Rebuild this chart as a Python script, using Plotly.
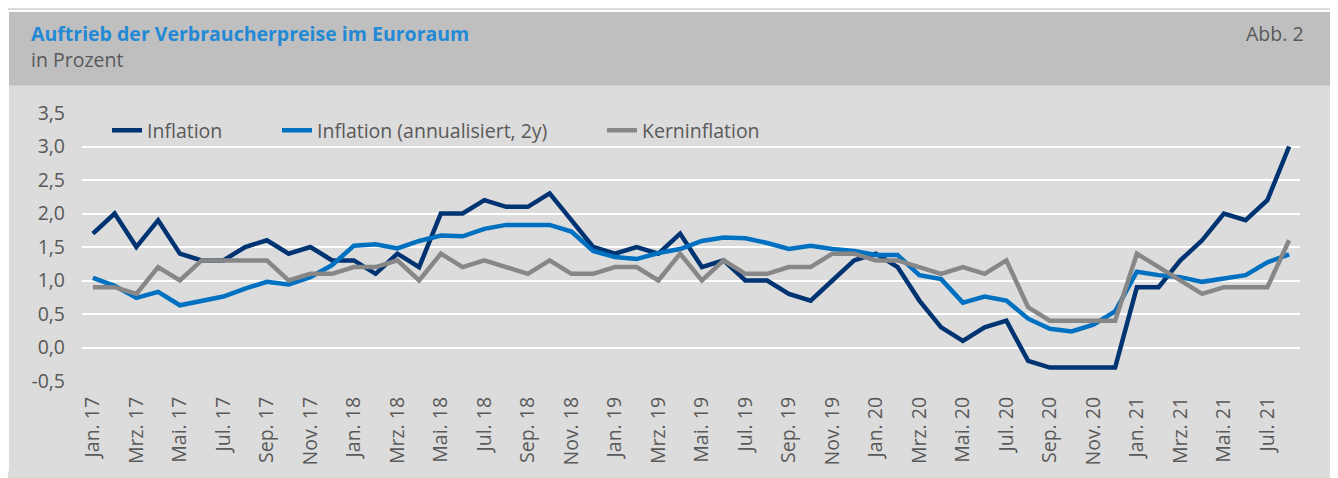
import plotly.graph_objects as go

# ---------------- data ----------------
month_names = ["Jan.", "Feb.", "Mrz.", "Apr.", "Mai.", "Jun.", "Jul.", "Aug.", "Sep.", "Okt.", "Nov.", "Dez."]
years = ["17", "18", "19", "20", "21"]
months = [f"{m} {y}" for y in years for m in month_names][:56]   # Jan. 17 .. Aug. 21
tick_labels = months[::2]

y_tick_vals = [-0.5, 0.0, 0.5, 1.0, 1.5, 2.0, 2.5, 3.0, 3.5]
y_tick_text = ["-0,5", "0,0", "0,5", "1,0", "1,5", "2,0", "2,5", "3,0", "3,5"]

inflation = [1.7, 2.0, 1.5, 1.9, 1.4, 1.3, 1.3, 1.5, 1.6, 1.4, 1.5, 1.3,
             1.3, 1.1, 1.4, 1.2, 2.0, 2.0, 2.2, 2.1, 2.1, 2.3, 1.9, 1.5,
             1.4, 1.5, 1.4, 1.7, 1.2, 1.3, 1.0, 1.0, 0.8, 0.7, 1.0, 1.3,
             1.4, 1.2, 0.7, 0.3, 0.1, 0.3, 0.4, -0.2, -0.3, -0.3, -0.3, -0.3,
             0.9, 0.9, 1.3, 1.6, 2.0, 1.9, 2.2, 3.0]

inflation_2y = [1.04, 0.92, 0.74, 0.83, 0.63, 0.69, 0.76, 0.88, 0.98, 0.94, 1.05, 1.23,
                1.52, 1.54, 1.48, 1.59, 1.67, 1.66, 1.77, 1.83, 1.83, 1.83, 1.73, 1.44,
                1.35, 1.32, 1.41, 1.47, 1.59, 1.64, 1.63, 1.56, 1.47, 1.52, 1.47, 1.44,
                1.38, 1.38, 1.08, 1.02, 0.67, 0.76, 0.70, 0.43, 0.28, 0.24, 0.34, 0.54,
                1.13, 1.08, 1.05, 0.98, 1.03, 1.08, 1.27, 1.39]

kerninflation = [0.9, 0.9, 0.8, 1.2, 1.0, 1.3, 1.3, 1.3, 1.3, 1.0, 1.1, 1.1,
                 1.2, 1.2, 1.3, 1.0, 1.4, 1.2, 1.3, 1.2, 1.1, 1.3, 1.1, 1.1,
                 1.2, 1.2, 1.0, 1.4, 1.0, 1.3, 1.1, 1.1, 1.2, 1.2, 1.4, 1.4,
                 1.3, 1.3, 1.2, 1.1, 1.2, 1.1, 1.3, 0.6, 0.4, 0.4, 0.4, 0.4,
                 1.4, 1.2, 1.0, 0.8, 0.9, 0.9, 0.9, 1.6]

series_names = ["Inflation", "Inflation (annualisiert, 2y)", "Kerninflation"]

# ---------------- styles ----------------
# the page has an 8px body margin, so the figure is 8px smaller than the window
W, H = 1330, 470
OFF = 8                                   # page -> figure offset
PLOT_L, PLOT_R, PLOT_T, PLOT_B = 82 - OFF, 1300 - OFF, 113 - OFF, 386 - OFF
FONT = "Open Sans"
FS = 19.5
TXT = "#595959"
C_DARK, C_BLUE, C_GRAY = "#003371", "#0070C0", "#878787"
LW = 4.5


def px_x(page_px):
    return (page_px - OFF - PLOT_L) / (PLOT_R - PLOT_L)


def px_y(page_py):
    return (PLOT_B - (page_py - OFF)) / (PLOT_B - PLOT_T)


fig = go.Figure()
for name, vals, col, lg in [(series_names[0], inflation, C_DARK, "legend"),
                            (series_names[1], inflation_2y, C_BLUE, "legend2"),
                            (series_names[2], kerninflation, C_GRAY, "legend3")]:
    fig.add_trace(go.Scatter(x=months, y=vals, name=name, mode="lines",
                             line=dict(color=col, width=LW), legend=lg))

legend_common = dict(orientation="h", yanchor="middle", xanchor="left",
                     bgcolor="rgba(0,0,0,0)", borderwidth=0,
                     font=dict(family=FONT, size=FS, color=TXT))

fig.update_layout(
    width=W, height=H,
    margin=dict(l=PLOT_L, r=W - PLOT_R, t=PLOT_T, b=H - PLOT_B, pad=0),
    paper_bgcolor="#DCDCDC", plot_bgcolor="#DCDCDC",
    font=dict(family=FONT, color=TXT),
    showlegend=True,
    legend=dict(x=px_x(107), y=px_y(131), **legend_common),
    legend2=dict(x=px_x(277), y=px_y(131), **legend_common),
    legend3=dict(x=px_x(602), y=px_y(131), **legend_common),
    xaxis=dict(type="category", categoryorder="array", categoryarray=months,
               range=[-0.5, len(months) - 0.5],
               tickmode="array", tickvals=tick_labels, ticktext=tick_labels,
               tickangle=-90, ticks="", showgrid=False, zeroline=False, showline=False,
               ticklabelstandoff=11,
               tickfont=dict(family=FONT, size=FS, color=TXT)),
    xaxis2=dict(overlaying="x", anchor="free", position=0.5 / 4.0, side="bottom",
                range=[-0.5, len(months) - 0.5], tickmode="linear", tick0=-0.5, dtick=2,
                ticks="outside", ticklen=5, tickwidth=2, tickcolor="white",
                showticklabels=False, showgrid=False, zeroline=False, showline=False),
    yaxis=dict(range=[-0.5, 3.5], tickmode="array", tickvals=y_tick_vals, ticktext=y_tick_text,
               showgrid=True, gridcolor="white", gridwidth=2, zeroline=False,
               showline=False, ticks="", ticklabelstandoff=16,
               tickfont=dict(family=FONT, size=FS, color=TXT)),
    shapes=[
        dict(type="rect", xref="paper", yref="paper", x0=px_x(8), x1=px_x(1338),
             y0=px_y(10), y1=px_y(8), fillcolor="white", line=dict(width=0), layer="below"),
        dict(type="rect", xref="paper", yref="paper", x0=px_x(8), x1=px_x(9),
             y0=px_y(478), y1=px_y(8), fillcolor="white", line=dict(width=0), layer="below"),
        dict(type="rect", xref="paper", yref="paper", x0=px_x(9), x1=px_x(1338),
             y0=px_y(85), y1=px_y(10), fillcolor="#BFBFBF", line=dict(width=0), layer="below"),
    ],
    annotations=[
        dict(text="<b>Auftrieb der Verbraucherpreise im Euroraum</b>", xref="paper", yref="paper",
             x=px_x(29), y=px_y(32), xanchor="left", yanchor="middle", showarrow=False,
             font=dict(family=FONT, size=FS, color="#2389D5")),
        dict(text="in Prozent", xref="paper", yref="paper",
             x=px_x(29), y=px_y(58), xanchor="left", yanchor="middle", showarrow=False,
             font=dict(family=FONT, size=FS, color=TXT)),
        dict(text="Abb. 2", xref="paper", yref="paper",
             x=px_x(1306), y=px_y(32), xanchor="right", yanchor="middle", showarrow=False,
             font=dict(family=FONT, size=FS, color=TXT)),
    ],
)

fig.write_html("out.html")
